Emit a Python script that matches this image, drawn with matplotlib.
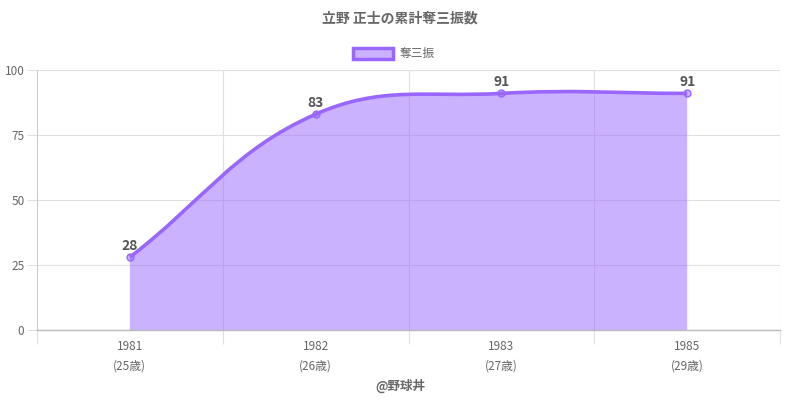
import numpy as np
import matplotlib
matplotlib.use("Agg")
import matplotlib.pyplot as plt
from matplotlib.path import Path
from matplotlib.patches import PathPatch

plt.rcParams['font.family'] = ['Noto Sans CJK JP', 'DejaVu Sans']

years = ['1981', '1982', '1983', '1985']
ages = ['(25歳)', '(26歳)', '(27歳)', '(29歳)']
strikeouts = [28, 83, 91, 91]

line_color = (153/255, 102/255, 255/255)
fill_color = (153/255, 102/255, 255/255, 0.5)
grid_color = '#e0e0e0'
text_color = '#666666'

fig = plt.figure(figsize=(8, 4), dpi=100)
ax = fig.add_axes([37/800, 70/400, 743/800, 260/400])
ax.set_xlim(-0.5, len(years) - 0.5)
ax.set_ylim(0, 100)

# Chart.js style bezier curve (tension 0.4), control points in pixel space
tension = 0.4
xs = np.arange(len(years))
pts = ax.transData.transform(np.column_stack([xs, strikeouts]))
n = len(pts)
cp_prev = []
cp_next = []
for i in range(n):
    prev = pts[i - 1] if i > 0 else pts[i]
    cur = pts[i]
    nxt = pts[i + 1] if i < n - 1 else pts[i]
    d01 = np.hypot(*(cur - prev))
    d12 = np.hypot(*(nxt - cur))
    tot = d01 + d12
    s01 = d01 / tot if tot else 0
    s12 = d12 / tot if tot else 0
    cp_prev.append(cur - tension * s01 * (nxt - prev))
    cp_next.append(cur + tension * s12 * (nxt - prev))

inv = ax.transData.inverted()
verts = [inv.transform(pts[0])]
codes = [Path.MOVETO]
for i in range(n - 1):
    verts += [inv.transform(cp_next[i]), inv.transform(cp_prev[i + 1]), inv.transform(pts[i + 1])]
    codes += [Path.CURVE4] * 3

fill_verts = verts + [(xs[-1], 0), (xs[0], 0), verts[0]]
fill_codes = codes + [Path.LINETO, Path.LINETO, Path.CLOSEPOLY]
ax.add_patch(PathPatch(Path(fill_verts, fill_codes), facecolor=fill_color, edgecolor='none', zorder=2))
ax.add_patch(PathPatch(Path(verts, codes), facecolor='none', edgecolor=line_color, lw=2.6, zorder=3))
ax.plot(xs, strikeouts, 'o', ms=5, mfc=(153/255, 102/255, 255/255, 0.5), mec=line_color, mew=1, zorder=4)

for x, v in zip(xs, strikeouts):
    ax.annotate(str(v), (x, v), xytext=(0, 3), textcoords='offset points',
                ha='center', va='bottom', fontsize=10, fontweight='bold', color='#555555', zorder=5)

# grid
ax.set_yticks([0, 25, 50, 75, 100])
ax.set_xticks(xs)
ax.set_xticks(np.arange(-0.5, len(years)), minor=True)
ax.set_xticklabels([f'{y}\n{a}' for y, a in zip(years, ages)], fontsize=8.5, color=text_color, linespacing=1.57)
ax.tick_params(axis='x', which='major', length=0, pad=7.5)
ax.tick_params(axis='x', which='minor', length=10, color=grid_color, width=0.8)
ax.tick_params(axis='y', length=7, color=grid_color, width=0.8, labelsize=8.5, labelcolor=text_color, pad=2)
ax.grid(True, axis='y', color=grid_color, lw=0.8, zorder=1)
ax.grid(True, axis='x', which='minor', color=grid_color, lw=0.8, zorder=1)
ax.set_axisbelow(True)
for s in ['top', 'right']:
    ax.spines[s].set_visible(False)
ax.spines['left'].set_color('#cccccc')
ax.spines['bottom'].set_color('#bbbbbb')
ax.spines['left'].set_linewidth(0.8)
ax.spines['bottom'].set_linewidth(1.0)

fig.text(0.5, 1 - 18/400, '立野 正士の累計奪三振数', ha='center', va='center',
         fontsize=10, fontweight='bold', color=text_color)

# legend
fig.patches.append(plt.Rectangle((353/800, 1 - 59/400), 40/800, 11/400, transform=fig.transFigure,
                                 facecolor=fill_color, edgecolor=line_color, lw=2.5))
fig.text(400/800, 1 - 53/400, '奪三振', ha='left', va='center', fontsize=8.5, color=text_color)

fig.text(0.5, 1 - 386/400, '@野球丼', ha='center', va='center',
         fontsize=9, fontweight='bold', color=text_color)

fig.savefig('out.png', dpi=100)
